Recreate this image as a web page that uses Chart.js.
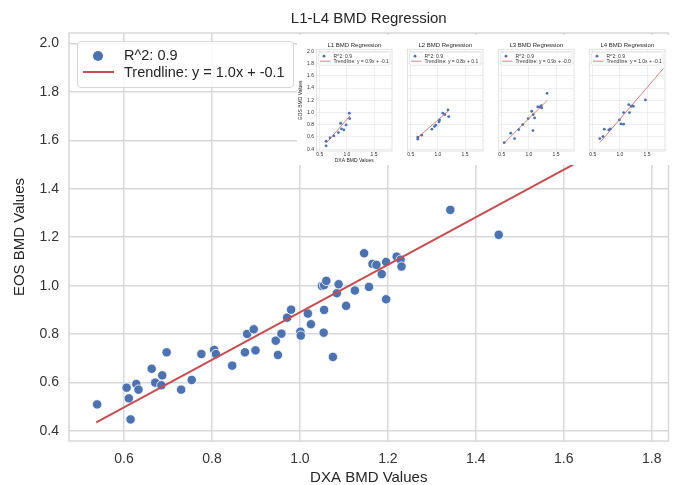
<!DOCTYPE html>
<html><head><meta charset="utf-8">
<script src="https://cdn.jsdelivr.net/npm/chart.js@4.4.0/dist/chart.umd.min.js"></script>
<style>
html,body{margin:0;padding:0;background:#fff;}
#wrap{position:relative;width:674px;height:485px;overflow:hidden;font-family:"Liberation Sans",Arial,sans-serif;background:#fff;}
#main{position:absolute;left:0;top:0;}
#legend{position:absolute;left:77px;top:41px;width:217px;height:47px;box-sizing:border-box;border:1px solid #d6d6d6;border-radius:4px;background:rgba(255,255,255,0.85);}
#legend .dot{position:absolute;left:15px;top:9px;width:10px;height:10px;border-radius:50%;background:#4c72b0;}
#legend .ln{position:absolute;left:5px;top:29px;width:31px;height:2px;background:#c44e52;}
#legend .t{position:absolute;left:46px;font-size:14.5px;color:#262626;line-height:16px;white-space:nowrap;}
#inset{position:absolute;left:297px;top:35px;width:377px;height:130px;background:#fff;}
#inset canvas{position:absolute;top:0;}
</style></head>
<body>
<div id="wrap">
  <canvas id="main" width="674" height="485"></canvas>
  <div id="legend">
    <div class="dot"></div><div class="t" style="top:5px">R^2: 0.9</div>
    <div class="ln"></div><div class="t" style="top:22px">Trendline: y = 1.0x + -0.1</div>
  </div>
  <div id="inset">
    <canvas id="s1" width="99" height="131" style="left:0px"></canvas>
    <canvas id="s2" width="84" height="131" style="left:106px"></canvas>
    <canvas id="s3" width="84" height="131" style="left:197px"></canvas>
    <canvas id="s4" width="84" height="131" style="left:288px"></canvas>
  </div>
</div>
<script>
// ---------- main chart data ----------
const dxaValues = [0.539,0.606,0.611,0.615,0.628,0.633,0.663,0.671,0.685,0.687,0.697,0.730,0.754,0.776,0.805,0.809,0.846,0.875,0.880,0.895,0.899,0.945,0.950,0.958,0.971,0.980,1.001,1.002,1.018,1.025,1.054,1.055,1.050,1.055,1.060,1.075,1.084,1.088,1.105,1.125,1.146,1.157,1.165,1.174,1.186,1.196,1.196,1.220,1.229,1.231,1.342,1.452];
const eosValues = [0.510,0.579,0.535,0.448,0.594,0.571,0.657,0.600,0.589,0.630,0.725,0.571,0.611,0.718,0.735,0.718,0.670,0.725,0.801,0.820,0.733,0.773,0.714,0.802,0.868,0.901,0.810,0.794,0.885,0.841,0.806,0.900,0.999,1.002,1.020,0.706,0.969,1.006,0.917,0.980,1.134,0.995,1.090,1.086,1.048,1.098,0.944,1.120,1.107,1.079,1.313,1.210];
const trendX = [0.537, 1.80];
const trendY = [0.436, 1.675];
const xTickVals = [0.6,0.8,1.0,1.2,1.4,1.6,1.8];
const yTickVals = [0.4,0.6,0.8,1.0,1.2,1.4,1.6,1.8,2.0];

// ---------- inset (per-vertebra) data ----------
const l1Dxa = [0.617,0.617,0.688,0.759,0.843,0.884,0.901,0.944,0.985,1.044,1.051];
const l1Eos = [0.531,0.454,0.585,0.617,0.671,0.824,0.731,0.715,0.797,0.988,0.900];
const l1TrendX = [0.617,1.056], l1TrendY = [0.498,0.944];
const l2Dxa = [0.630,0.630,0.701,0.889,0.937,0.960,1.020,1.031,1.091,1.127,1.186,1.198];
const l2Eos = [0.596,0.563,0.629,0.727,0.769,0.792,0.846,0.878,0.988,0.965,1.042,0.932];
const l2TrendX = [0.617,1.186], l2TrendY = [0.582,1.020];
const l3Dxa = [0.546,0.665,0.736,0.813,0.885,0.985,1.051,1.074,1.080,1.104,1.163,1.199,1.228,1.234,1.335];
const l3Eos = [0.508,0.661,0.573,0.720,0.802,0.900,1.020,0.704,0.965,0.911,1.091,1.091,1.112,1.074,1.314];
const l3TrendX = [0.528,1.340], l3TrendY = [0.487,1.200];
const l4Dxa = [0.630,0.688,0.713,0.795,0.825,0.990,1.020,1.068,1.068,1.163,1.175,1.210,1.246,1.470];
const l4Eos = [0.573,0.606,0.727,0.715,0.731,0.878,0.813,0.808,0.998,1.128,0.998,1.102,1.102,1.205];
const l4TrendX = [0.630,1.802], l4TrendY = [0.508,1.722];
const subTitles = ["L1 BMD Regression","L2 BMD Regression","L3 BMD Regression","L4 BMD Regression"];
const subR2 = ["R^2: 0.9","R^2: 0.9","R^2: 0.9","R^2: 0.9"];
const subTrend = ["Trendline: y = 0.9x + -0.1","Trendline: y = 0.8x + 0.1","Trendline: y = 0.9x + -0.0","Trendline: y = 1.0x + -0.1"];
const subXTicks = [0.5,1.0,1.5];

const FONT = '"Liberation Sans", Arial, sans-serif';
const GRID = '#d8d8d8';
const TXT = '#333333';
const BLUE = '#4c72b0';
const RED = '#c44e52';

const zip = (a,b) => a.map((v,i)=>({x:v,y:b[i]}));

const frame = {
  id:'frame',
  beforeDatasetsDraw(chart, args, opts){
    const a = chart.chartArea, c = chart.ctx;
    c.save(); c.strokeStyle = opts.color || GRID; c.lineWidth = opts.width || 1.5;
    c.strokeRect(a.left, a.top, a.right-a.left, a.bottom-a.top);
    c.restore();
  }
};

new Chart(document.getElementById('main'), {
  type:'scatter',
  data:{datasets:[
    {type:'line', label:'Trendline: y = 1.0x + -0.1', data: zip(trendX,trendY), borderColor:RED, borderWidth:2, pointRadius:0, fill:false, order:0},
    {label:'R^2: 0.9', data: zip(dxaValues,eosValues), backgroundColor:BLUE, borderColor:'#ffffff', borderWidth:0.8, pointRadius:4.7, order:1}
  ]},
  options:{
    responsive:false, animation:false, devicePixelRatio:1,
    layout:{padding:{left:0,right:2,top:0,bottom:0}},
    plugins:{
      legend:{display:false}, tooltip:{enabled:false},
      title:{display:true, text:'L1-L4 BMD Regression', fullSize:false, color:'#262626',
        font:{family:FONT,size:15,weight:'normal',lineHeight:1.2}, padding:{top:10,bottom:5}},
      frame:{color:GRID,width:1.5}
    },
    scales:{
      x:{type:'linear', min:0.475, max:1.838,
        afterBuildTicks:s=>{s.ticks = xTickVals.map(v=>({value:v}));},
        afterFit:s=>{s.height = 44;},
        grid:{color:GRID, lineWidth:1.5, drawTicks:false}, border:{display:false},
        ticks:{padding:10, color:TXT, font:{family:FONT,size:14}, callback:v=>Number(v).toFixed(1)},
        title:{display:true, text:'DXA BMD Values', color:'#262626', font:{family:FONT,size:15,lineHeight:1}, padding:{top:0,bottom:0}}
      },
      y:{type:'linear', min:0.359, max:2.043,
        afterBuildTicks:s=>{s.ticks = yTickVals.map(v=>({value:v}));},
        afterFit:s=>{s.width = 69;},
        grid:{color:GRID, lineWidth:1.5, drawTicks:false}, border:{display:false},
        ticks:{padding:10, color:TXT, font:{family:FONT,size:14}, callback:v=>Number(v).toFixed(1)},
        title:{display:true, text:'EOS BMD Values', color:'#262626', font:{family:FONT,size:15,lineHeight:1.2}, padding:{top:11,bottom:0}}
      }
    }
  },
  plugins:[frame]
});

// ---------- small charts ----------
const miniLegend = {
  id:'miniLegend',
  afterDraw(chart, args, o){
    const a = chart.chartArea, c = chart.ctx;
    const bx = a.left+2, by = a.top+3, bw = a.right-a.left-4, bh = 13;
    c.save();
    c.fillStyle='rgba(255,255,255,0.85)'; c.strokeStyle='#d8d8d8'; c.lineWidth=0.6;
    c.beginPath(); c.roundRect(bx,by,bw,bh,1.5); c.fill(); c.stroke();
    c.fillStyle=BLUE; c.beginPath(); c.arc(bx+5.5, by+4, 1.4, 0, Math.PI*2); c.fill();
    c.strokeStyle=RED; c.lineWidth=0.7; c.beginPath(); c.moveTo(bx+1.5, by+9); c.lineTo(bx+12, by+9); c.stroke();
    c.fillStyle=TXT; c.font='5px '+FONT; c.textBaseline='middle'; c.textAlign='left';
    c.fillText(o.r2, bx+15, by+4);
    c.fillText(o.trend, bx+15, by+9);
    c.restore();
  }
};

function mini(id, dx, dy, tx, ty, idx, first){
  const yw = first ? 19.5 : 4.5;
  new Chart(document.getElementById(id), {
    type:'scatter',
    data:{datasets:[
      {type:'line', data: zip(tx,ty), borderColor:RED, borderWidth:0.7, pointRadius:0, fill:false, order:0},
      {data: zip(dx,dy), backgroundColor:BLUE, borderWidth:0, pointRadius:1.4, order:1}
    ]},
    options:{
      responsive:false, animation:false, devicePixelRatio:1,
      layout:{padding:{left:0,right:2,top:0,bottom:0}},
      plugins:{
        legend:{display:false}, tooltip:{enabled:false},
        title:{display:true, text:subTitles[idx], fullSize:false, color:'#262626',
          font:{family:FONT,size:6,weight:'normal',lineHeight:1.2}, padding:{top:7,bottom:0}},
        frame:{color:'#d0d0d0', width:0.6},
        miniLegend:{r2:subR2[idx], trend:subTrend[idx]}
      },
      scales:{
        x:{type:'linear', min:0.44, max:1.83,
          afterBuildTicks:s=>{s.ticks = subXTicks.map(v=>({value:v}));},
          afterFit:s=>{s.height = 15;},
          grid:{color:'#e2e2e2', lineWidth:0.6, drawTicks:false}, border:{display:false},
          ticks:{padding:1, color:TXT, font:{family:FONT,size:5}, maxRotation:0, callback:v=>Number(v).toFixed(1)},
          title:{display:first, text:'DXA BMD Values', color:'#262626', font:{family:FONT,size:5,lineHeight:1.2}, padding:{top:0,bottom:2.5}}
        },
        y:{type:'linear', min:0.37, max:2.035,
          afterBuildTicks:s=>{s.ticks = yTickVals.map(v=>({value:v}));},
          afterFit:s=>{s.width = yw;},
          grid:{color:'#e2e2e2', lineWidth:0.6, drawTicks:false}, border:{display:false},
          ticks:{display:first, padding:2.5, color:TXT, font:{family:FONT,size:5}, callback:v=>Number(v).toFixed(1)},
          title:{display:first, text:'EOS BMD Values', color:'#262626', font:{family:FONT,size:5,lineHeight:1.2}, padding:{top:0.5,bottom:0}}
        }
      }
    },
    plugins:[frame, miniLegend]
  });
}
mini('s1', l1Dxa, l1Eos, l1TrendX, l1TrendY, 0, true);
mini('s2', l2Dxa, l2Eos, l2TrendX, l2TrendY, 1, false);
mini('s3', l3Dxa, l3Eos, l3TrendX, l3TrendY, 2, false);
mini('s4', l4Dxa, l4Eos, l4TrendX, l4TrendY, 3, false);
</script>
</body></html>
